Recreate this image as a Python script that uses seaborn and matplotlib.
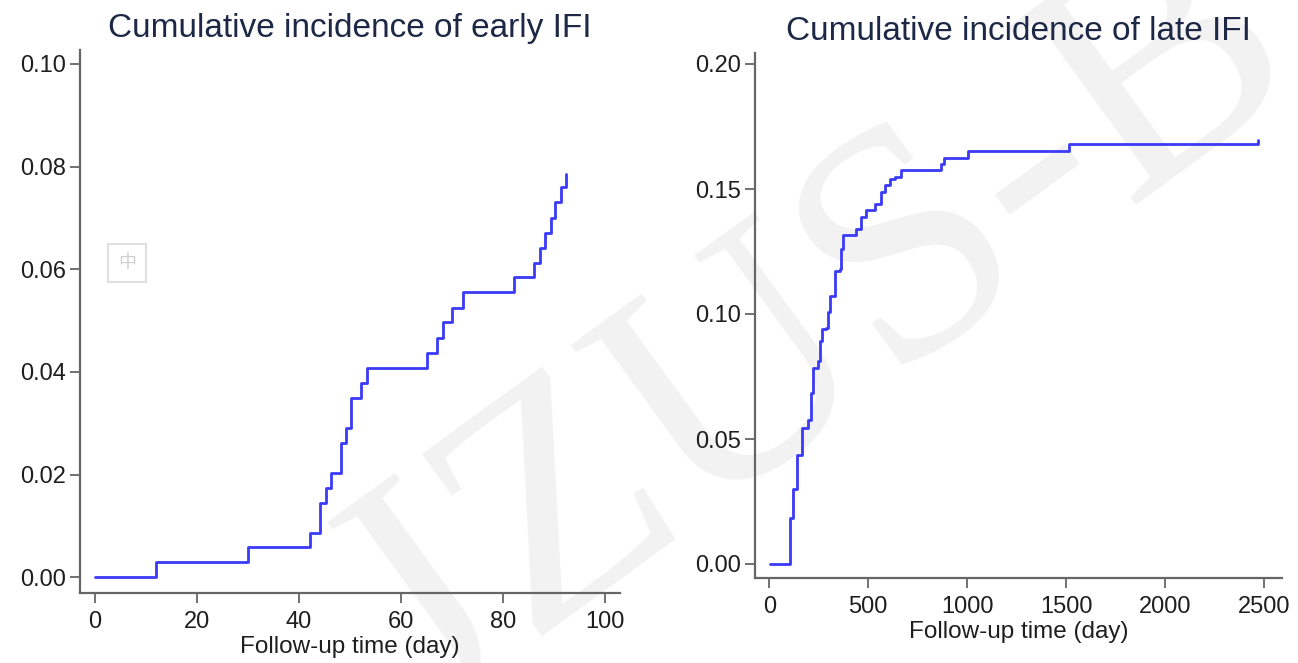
import seaborn as sns
import matplotlib.pyplot as plt
import pandas as pd
import numpy as np

# Step points
early_days = [0, 12, 30, 42.2, 44.1, 45.4, 46.4, 48.2, 49.2, 50.3, 52.2, 53.3,
              65.1, 67.1, 68.2, 70.1, 72.2, 82.2, 86.1, 87.3, 88.2, 89.4, 90.3,
              91.4, 92.4]
early_cif = [0, 0.0029, 0.0059, 0.0086, 0.0145, 0.0174, 0.0204, 0.0261, 0.0291,
             0.0350, 0.0379, 0.0408, 0.0437, 0.0467, 0.0497, 0.0525, 0.0555,
             0.0585, 0.0613, 0.0641, 0.0670, 0.0700, 0.0730, 0.0760, 0.0785]

late_days = [3, 107, 121, 138, 163, 196, 213, 222, 247, 255, 264, 289, 297, 309,
             331, 356, 364, 373, 440, 465, 487, 532, 566, 587, 611, 633, 666,
             868, 885, 1002, 1514, 2471]
late_cif = [0, 0.0183, 0.0300, 0.0438, 0.0545, 0.0578, 0.0685, 0.0786, 0.0813,
            0.0893, 0.0940, 0.0946, 0.1007, 0.1074, 0.1174, 0.1180, 0.1260,
            0.1315, 0.1340, 0.1388, 0.1415, 0.1442, 0.1489, 0.1515, 0.1542,
            0.1549, 0.1576, 0.1602, 0.1625, 0.1652, 0.1680, 0.1696]

early_xticks = [0, 20, 40, 60, 80, 100]
early_yticks = [0.00, 0.02, 0.04, 0.06, 0.08, 0.10]
late_xticks = [0, 500, 1000, 1500, 2000, 2500]
late_yticks = [0.00, 0.05, 0.10, 0.15, 0.20]

early = pd.DataFrame({'day': early_days, 'cif': early_cif})
late = pd.DataFrame({'day': late_days, 'cif': late_cif})

sns.set_style("ticks")
plt.rcParams['font.family'] = ['Liberation Sans', 'DejaVu Sans']

line_col = '#3a3af8'
title_col = '#1c2846'
text_col = '#1e1e1e'
spine_col = '#666666'

fig = plt.figure(figsize=(12.98, 6.63), dpi=100)
fig.patch.set_facecolor('white')

# faint journal watermark behind the plots
fig.text(0.63, 0.50, 'JZUS-B', rotation=36, fontsize=240, color='#f2f2f2',
         family='Liberation Serif', ha='center', va='center', zorder=-1)

# small grey icon box from the screenshot
fig.text(127 / 1298, 1 - 263 / 663, '中', fontsize=13, color='#cfcfcf',
         family=['Noto Sans CJK SC', 'DejaVu Sans'], ha='center', va='center',
         bbox=dict(boxstyle='square,pad=0.55', fc='none', ec='#e0e0e0', lw=1.5),
         zorder=-1)

ax1 = fig.add_axes([80 / 1298, 1 - 592.7 / 663, 540 / 1298, 542.7 / 663])
ax2 = fig.add_axes([755 / 1298, 1 - 578 / 663, 527 / 1298, 525 / 663])

panels = [
    (ax1, early, 'Cumulative incidence of early IFI', (-2.9, 103),
     (-0.003, 0.1027), early_xticks, early_yticks),
    (ax2, late, 'Cumulative incidence of late IFI', (-72, 2590),
     (-0.0056, 0.2044), late_xticks, late_yticks),
]

for ax, df, title, xlim, ylim, xt, yt in panels:
    ax.set_facecolor('none')
    sns.lineplot(data=df, x='day', y='cif', ax=ax, color=line_col,
                 linewidth=2.0, drawstyle='steps-post', sort=False,
                 estimator=None)
    ax.set_xlim(*xlim)
    ax.set_ylim(*ylim)
    ax.set_xticks(xt)
    ax.set_xticklabels([str(v) for v in xt])
    ax.set_yticks(yt)
    ax.set_yticklabels(['{:.2f}'.format(v) for v in yt])
    ax.tick_params(axis='both', length=7, width=1.3, color=spine_col,
                   labelsize=17, labelcolor=text_col)
    ax.tick_params(axis='x', pad=6)
    ax.tick_params(axis='y', pad=3)
    ax.set_title(title, fontsize=24, color=title_col, pad=9)
    ax.set_xlabel('Follow-up time (day)', fontsize=17.5, color=text_col,
                  labelpad=2)
    ax.set_ylabel('')
    for side in ['top', 'right']:
        ax.spines[side].set_visible(False)
    for side in ['left', 'bottom']:
        ax.spines[side].set_color(spine_col)
        ax.spines[side].set_linewidth(1.6)

fig.savefig('out.png', dpi=100, facecolor='white')
